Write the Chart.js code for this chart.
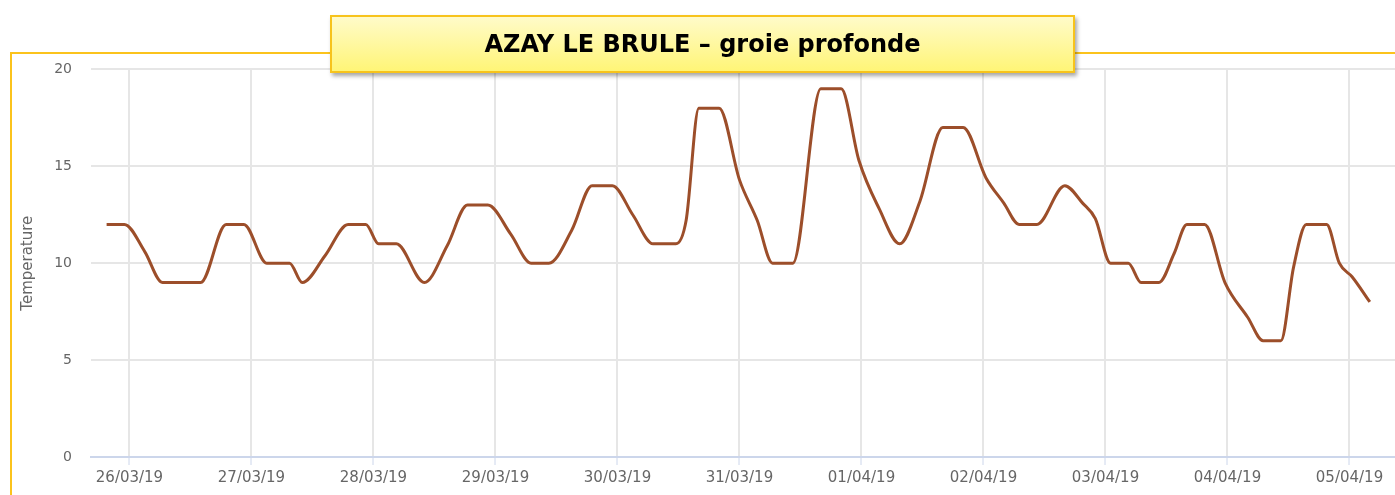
<!DOCTYPE html>
<html>
<head>
<meta charset="utf-8">
<script src="https://cdn.jsdelivr.net/npm/chart.js@4.4.1/dist/chart.umd.min.js"></script>
<style>
  html, body { margin: 0; padding: 0; background: #fff; overflow: hidden; width: 1395px; height: 495px; }
  #frame { position: absolute; left: 10px; top: 52px; width: 1420px; height: 480px; border: 2px solid #fbc31c; box-sizing: border-box; }
  #wrap { position: absolute; left: 0; top: 42px; width: 1420px; height: 453px; }
  #title {
    position: absolute; left: 330px; top: 15px; width: 745px; height: 58px; box-sizing: border-box;
    border: 2px solid #f7c31c; background: linear-gradient(#fffbc9, #fff577);
    box-shadow: 2px 3px 4px rgba(0,0,0,0.35);
    font: bold 24px "DejaVu Sans", sans-serif; color: #000; text-align: center; line-height: 54px;
  }
</style>
</head>
<body>
<div id="frame"></div>
<div id="wrap"><canvas id="chart"></canvas></div>
<div id="title">AZAY LE BRULE – groie profonde</div>
<script>
// hours since 26/03/19 00:00
const hours = [-4.5, -1, 3, 6.5, 10, 14, 19, 22.5, 27, 31.5, 34, 38.5, 43, 46.5, 49, 52.5, 58, 62.5,
  66.5, 70.5, 75, 79, 82.5, 87, 91, 95, 99, 103, 107.5, 109.5, 112, 116, 120, 123.5, 126.5, 130.5,
  136, 140, 143.5, 147.5, 151.5, 155.5, 160, 164, 168.5, 172, 175, 178.5, 184, 187.5, 190, 193,
  196.5, 199, 202.5, 205.5, 208, 211.5, 215.5, 220, 223, 226.5, 229, 231.5, 235.5, 238, 240.5, 244];
const temps = [12, 12, 10.6, 9, 9, 9, 12, 12, 10, 10, 9, 10.4, 12, 12, 11, 11, 9, 10.9,
  13, 13, 11.5, 10, 10, 11.7, 14, 14, 12.5, 11, 11, 12.2, 18, 18, 14.3, 12.2, 10, 10,
  19, 19, 15.3, 12.8, 11, 13.2, 17, 17, 14.4, 13.1, 12, 12, 14, 13.1, 12.3, 10,
  10, 9, 9, 10.5, 12, 12, 9, 7.2, 6, 6, 9.8, 12, 12, 10, 9.3, 8];
const dayTicks = [0, 24, 48, 72, 96, 120, 144, 168, 192, 216, 240];
const dayLabels = ['26/03/19', '27/03/19', '28/03/19', '29/03/19', '30/03/19', '31/03/19',
  '01/04/19', '02/04/19', '03/04/19', '04/04/19', '05/04/19'];

const ctx = document.getElementById('chart').getContext('2d');
new Chart(ctx, {
  type: 'line',
  data: {
    datasets: [{
      data: hours.map((h, i) => ({ x: h, y: temps[i] })),
      borderColor: '#9c4e2a',
      borderWidth: 3,
      pointRadius: 0,
      cubicInterpolationMode: 'monotone',
      fill: false
    }]
  },
  options: {
    responsive: true,
    maintainAspectRatio: false,
    animation: false,
    layout: { padding: { top: 5, right: 0, bottom: 0, left: 0 } },
    plugins: { legend: { display: false }, tooltip: { enabled: false } },
    scales: {
      x: {
        type: 'linear',
        min: -7.57,
        max: 253.87,
        afterBuildTicks: axis => { axis.ticks = dayTicks.map(v => ({ value: v })); },
        afterFit: axis => { axis.height = 38; },
        ticks: {
          callback: (v, i) => dayLabels[i],
          color: '#666',
          font: { family: 'DejaVu Sans', size: 15 },
          padding: 4,
          maxRotation: 0,
          autoSkip: false
        },
        grid: { color: '#e6e6e6', lineWidth: 2, tickColor: '#ccd6eb', tickLength: 8, tickWidth: 1 },
        border: { color: '#ccd6eb', width: 2 }
      },
      y: {
        min: 0,
        max: 20,
        afterFit: axis => { axis.width = 91; },
        ticks: { stepSize: 5, color: '#666', font: { family: 'DejaVu Sans', size: 14 }, padding: 19 },
        grid: { color: '#e6e6e6', lineWidth: 2, drawTicks: false },
        border: { display: false },
        title: {
          display: true,
          text: 'Temperature',
          color: '#666',
          font: { family: 'DejaVu Sans', size: 15 },
          padding: { top: 19.5, bottom: 0 }
        }
      }
    }
  }
});
</script>
</body>
</html>
